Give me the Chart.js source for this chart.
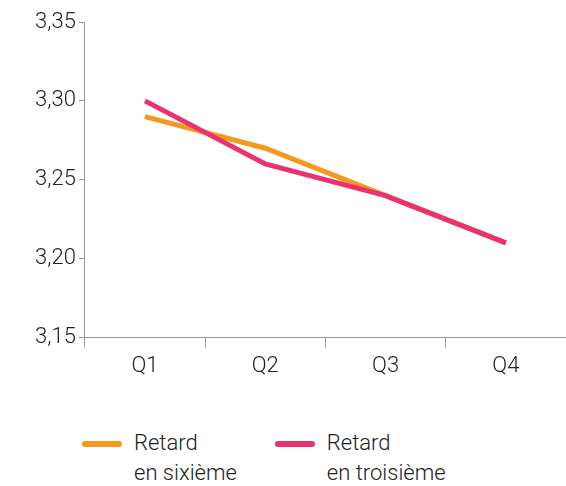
<!DOCTYPE html>
<html>
<head>
<meta charset="utf-8">
<script src="https://cdn.jsdelivr.net/npm/chart.js@4/dist/chart.umd.min.js"></script>
<style>
  body { margin: 0; background: #fff; font-family: Roboto, sans-serif; }
  #wrap { position: relative; width: 566px; height: 390px; }
  #legend { position: absolute; top: 428px; left: 82px; display: flex; font-size: 22px; font-weight: 300; color: #222; line-height: 30px; }
  .item { display: flex; align-items: flex-start; margin-right: 38px; }
  .swatch { width: 40px; height: 6px; margin-top: 13px; margin-right: 12px; border-radius: 3px; }
</style>
</head>
<body>
<div id="wrap"><canvas id="chart"></canvas></div>
<div id="legend">
  <div class="item"><div class="swatch" style="background:#F39A1E"></div><div>Retard<br>en sixième</div></div>
  <div class="item"><div class="swatch" style="background:#E8336F"></div><div>Retard<br>en troisième</div></div>
</div>
<script>
const categories = ["Q1", "Q2", "Q3", "Q4"];
const sixieme = [3.29, 3.27, 3.24, 3.21];
const troisieme = [3.30, 3.26, 3.24, 3.21];

new Chart(document.getElementById("chart"), {
    type: "line",
    data: {
        labels: categories,
        datasets: [
            { label: "Retard en sixième", data: sixieme, borderColor: "#F39A1E", borderWidth: 5, pointRadius: 0, tension: 0, order: 1 },
            { label: "Retard en troisième", data: troisieme, borderColor: "#E8336F", borderWidth: 5, pointRadius: 0, tension: 0, order: 0 }
        ]
    },
    options: {
        responsive: true,
        maintainAspectRatio: false,
        animation: false,
        layout: { padding: { top: 22, right: 0, left: 32, bottom: 4 } },
        plugins: { legend: { display: false }, tooltip: { enabled: false } },
        scales: {
            x: {
                offset: true,
                grid: { offset: true, drawOnChartArea: false, tickLength: 10, color: "#999" },
                border: { color: "#999" },
                ticks: { color: "#222", font: { family: "Roboto", size: 22, weight: 300 }, padding: 6 }
            },
            y: {
                min: 3.15, max: 3.35,
                grid: { drawOnChartArea: false, tickLength: 6, color: "#999" },
                border: { color: "#999" },
                ticks: {
                    stepSize: 0.05,
                    color: "#222",
                    font: { family: "Roboto", size: 22, weight: 300 },
                    callback: v => v.toFixed(2).replace(".", ",")
                }
            }
        }
    }
});
</script>
</body>
</html>
